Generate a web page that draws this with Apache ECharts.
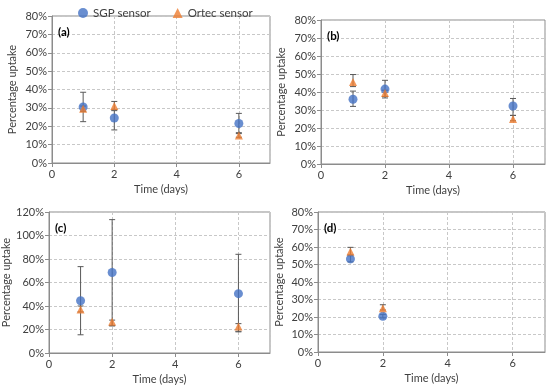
<!DOCTYPE html>
<html><head><meta charset="utf-8">
<script src="https://cdn.jsdelivr.net/npm/echarts@6/dist/echarts.min.js"></script>
<style>html,body{margin:0;padding:0;background:#fff}#c{width:550px;height:390px}</style>
</head><body><div id="c"></div>
<script>
// Shared
const days = [1, 2, 6];
const xTicks = [0, 2, 4, 6];
const panelLabels = ['(a)', '(b)', '(c)', '(d)'];
const yMax = [80, 80, 120, 80];
const yStep = [10, 10, 20, 10];

// Panel (a)
const sgpA = [30.5, 24.5, 21.5];
const sgpA_lo = [22.5, 18, 16];
const sgpA_hi = [38.5, 28.5, 27];
const ortecA = [29.5, 31, 15];
const ortecA_lo = [28, 29, 14];
const ortecA_hi = [31, 33.5, 16.5];

// Panel (b)
const sgpB = [36, 41.6, 32.2];
const sgpB_lo = [32, 36.7, 27];
const sgpB_hi = [40.5, 46.5, 36.4];
const ortecB = [45.5, 39.5, 25];
const ortecB_lo = [43, 37.5, 24];
const ortecB_hi = [49.7, 41, 27];

// Panel (c)
const sgpC = [44.5, 68.5, 50.5];
const sgpC_lo = [15.5, 23.5, 18];
const sgpC_hi = [73.5, 113.5, 84];
const ortecC = [37, 26.5, 22.5];
const ortecC_lo = [35, 23, 18.5];
const ortecC_hi = [40, 28, 25];

// Panel (d)
const sgpD = [53.2, 20.4];
const sgpD_lo = [51.5, 19.5];
const sgpD_hi = [55, 21.5];
const ortecD = [57.5, 25];
const ortecD_lo = [55.5, 24];
const ortecD_hi = [59.8, 27];

const panels = [
  {sgp: sgpA, sl: sgpA_lo, sh: sgpA_hi, ort: ortecA, ol: ortecA_lo, oh: ortecA_hi},
  {sgp: sgpB, sl: sgpB_lo, sh: sgpB_hi, ort: ortecB, ol: ortecB_lo, oh: ortecB_hi},
  {sgp: sgpC, sl: sgpC_lo, sh: sgpC_hi, ort: ortecC, ol: ortecC_lo, oh: ortecC_hi},
  {sgp: sgpD, sl: sgpD_lo, sh: sgpD_hi, ort: ortecD, ol: ortecD_lo, oh: ortecD_hi}
];

const FONT = 'Lato';
const BLUE = '#4472C4', ORANGE = '#ED7D31';
const grids = [
  {left: 52, top: 16, width: 218, height: 147},
  {left: 321, top: 20, width: 224, height: 144},
  {left: 49, top: 212, width: 221, height: 141},
  {left: 318, top: 212, width: 227, height: 140}
];
const yNameGap = [34, 34, 33, 33];

function errItem(params, api) {
  const x = api.value(0), lo = api.value(1), hi = api.value(2);
  const p1 = api.coord([x, lo]), p2 = api.coord([x, hi]);
  const cw = 3;
  const st = {stroke: '#595959', lineWidth: 1};
  return {type: 'group', children: [
    {type: 'line', shape: {x1: p1[0], y1: p1[1], x2: p2[0], y2: p2[1]}, style: st},
    {type: 'line', shape: {x1: p1[0]-cw, y1: p1[1], x2: p1[0]+cw, y2: p1[1]}, style: st},
    {type: 'line', shape: {x1: p2[0]-cw, y1: p2[1], x2: p2[0]+cw, y2: p2[1]}, style: st}
  ]};
}

const option = {
  animation: false,
  textStyle: {fontFamily: FONT},
  legend: {
    left: 73, top: 2, itemGap: 22, itemWidth: 10, itemHeight: 10,
    textStyle: {fontFamily: FONT, fontSize: 11.5, color: '#404040'},
    data: [{name: 'SGP sensor', icon: 'circle'}, {name: 'Ortec sensor', icon: 'triangle'}]
  },
  title: panelLabels.map((t, i) => ({
    text: t, left: grids[i].left + 6, top: grids[i].top + 10, padding: 0,
    textStyle: {fontFamily: FONT, fontSize: 11.5, fontWeight: 'bold', color: '#000'}
  })),
  grid: grids.map(g => Object.assign({show: true, borderColor: '#8c8c8c', borderWidth: 1, backgroundColor: 'transparent'}, g)),
  xAxis: grids.map((g, i) => ({
    gridIndex: i, type: 'value', min: 0, max: 7, interval: 2,
    name: 'Time (days)', nameLocation: 'middle', nameGap: 21,
    nameTextStyle: {fontFamily: FONT, fontSize: 11, color: '#404040'},
    axisLine: {show: true, onZero: false, lineStyle: {color: '#8c8c8c'}},
    axisTick: {show: true, length: 4, lineStyle: {color: '#8c8c8c'}},
    axisLabel: {fontFamily: FONT, fontSize: 11, color: '#404040', margin: 6, showMaxLabel: false,
      formatter: v => xTicks.indexOf(v) >= 0 ? String(v) : ''},
    splitLine: {show: true, lineStyle: {color: '#c8c8c8', type: [3, 2]}}
  })),
  yAxis: grids.map((g, i) => ({
    gridIndex: i, type: 'value', min: 0, max: yMax[i], interval: yStep[i],
    name: 'Percentage uptake', nameLocation: 'middle', nameGap: yNameGap[i],
    nameTextStyle: {fontFamily: FONT, fontSize: 11, color: '#404040'},
    axisLine: {show: true, lineStyle: {color: '#8c8c8c'}},
    axisTick: {show: true, length: 4, lineStyle: {color: '#8c8c8c'}},
    axisLabel: {fontFamily: FONT, fontSize: 11, color: '#404040', margin: 5, formatter: '{value}%'},
    splitLine: {show: true, lineStyle: {color: '#c8c8c8', type: [3, 2]}}
  })),
  series: []
};

panels.forEach((p, i) => {
  const d = days.slice(0, p.sgp.length);
  option.series.push({
    type: 'custom', xAxisIndex: i, yAxisIndex: i, renderItem: errItem, z: 2,
    data: d.map((x, k) => [x, p.sl[k], p.sh[k]])
  });
  option.series.push({
    type: 'custom', xAxisIndex: i, yAxisIndex: i, renderItem: errItem, z: 2,
    data: d.map((x, k) => [x, p.ol[k], p.oh[k]])
  });
  option.series.push({
    name: 'SGP sensor', type: 'scatter', xAxisIndex: i, yAxisIndex: i, z: 3,
    symbol: 'circle', symbolSize: 9, itemStyle: {color: BLUE},
    data: d.map((x, k) => [x, p.sgp[k]])
  });
  option.series.push({
    name: 'Ortec sensor', type: 'scatter', xAxisIndex: i, yAxisIndex: i, z: 4,
    symbol: 'triangle', symbolSize: 8, itemStyle: {color: ORANGE},
    data: d.map((x, k) => [x, p.ort[k]])
  });
});

const chart = echarts.init(document.getElementById('c'), null, {renderer: 'canvas'});
chart.setOption(option);
</script>
</body></html>
